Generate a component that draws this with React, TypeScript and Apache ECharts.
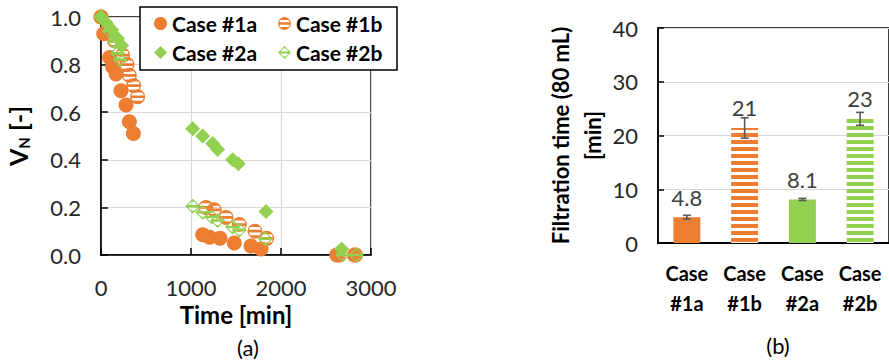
import React, { useEffect, useRef } from 'react';
import * as echarts from 'echarts';

const ORANGE = '#ED7D31';
const GREEN = '#92D050';
const FONT = 'Lato';

// ---- panel (a): normalized volume vs time ----
const seriesNames = ['Case #1a', 'Case #1b', 'Case #2a', 'Case #2b'];
const case1a: number[][] = [
  [0, 1.0], [30, 0.93], [95, 0.83], [130, 0.79], [167, 0.76], [222, 0.69], [278, 0.63], [315, 0.56], [360, 0.51],
  [1130, 0.085], [1205, 0.075], [1322, 0.07], [1481, 0.05], [1667, 0.038], [1778, 0.025],
  [2620, 0.0], [2815, 0.0],
];
const case1b: number[][] = [
  [0, 1.0], [60, 0.94], [150, 0.9], [240, 0.84], [289, 0.8], [315, 0.755], [363, 0.712], [407, 0.665],
  [1167, 0.2], [1259, 0.19], [1389, 0.158], [1537, 0.128], [1711, 0.1], [1841, 0.07],
  [2640, 0.0], [2830, 0.0],
];
const case2a: number[][] = [
  [0, 1.0], [60, 0.975], [120, 0.945], [185, 0.91], [230, 0.88],
  [1019, 0.53], [1130, 0.5], [1241, 0.468], [1296, 0.443], [1463, 0.4], [1526, 0.383], [1833, 0.183],
  [2674, 0.025],
];
const case2b: number[][] = [
  [0, 1.0], [93, 0.94], [148, 0.897], [185, 0.848], [211, 0.82],
  [1019, 0.205], [1130, 0.18], [1230, 0.16], [1296, 0.145], [1463, 0.118], [1537, 0.105], [1826, 0.068],
  [2685, 0.0], [2837, 0.0],
];

// ---- panel (b): filtration time ----
const barCategories = ['Case\n#1a', 'Case\n#1b', 'Case\n#2a', 'Case\n#2b'];
const barValues = [4.8, 21.4, 8.1, 23.1];
const barErrors = [0.35, 1.9, 0.2, 1.2];

const STRIPED_CIRCLE =
  'path://M0,10 A10,10 0 1,1 20,10 A10,10 0 1,1 0,10 Z ' +
  'M3.784,4.5 A8.3,8.3 0 0,0 1.898,8.2 L18.102,8.2 A8.3,8.3 0 0,0 16.216,4.5 Z ' +
  'M1.898,11.8 A8.3,8.3 0 0,0 3.784,15.5 L16.216,15.5 A8.3,8.3 0 0,0 18.102,11.8 Z';
const STRIPED_DIAMOND =
  'path://M10,0 L20,10 L10,20 L0,10 Z M8,4 L3.7,8.3 L16.3,8.3 L12,4 Z M3.7,11.7 L8,16 L12,16 L16.3,11.7 Z';

const symbols = ['circle', STRIPED_CIRCLE, 'diamond', STRIPED_DIAMOND];
const colors = [ORANGE, ORANGE, GREEN, GREEN];
const scatterData = [case1a, case1b, case2a, case2b];

function stripeDecal(color: string) {
  return {
    symbol: 'rect',
    symbolSize: 1,
    color,
    dashArrayX: [1, 0],
    dashArrayY: [3.5, 2.3],
    rotation: 0,
  };
}

export default function App() {
  const ref = useRef<HTMLDivElement>(null);
  useEffect(() => {
    if (!ref.current) return;
    const chart = echarts.init(ref.current, undefined, { renderer: 'svg' });
    const option: any = {
      animation: false,
      textStyle: { fontFamily: FONT },
      grid: [
        { left: 101, top: 17, width: 270, height: 238, show: true, borderColor: '#000', borderWidth: 1.5 },
        { left: 658, top: 28, width: 238, height: 215, show: true, borderColor: '#000', borderWidth: 1.5 },
      ],
      legend: {
        data: seriesNames.map((n, i) => ({ name: n, icon: symbols[i] })),
        left: 140,
        top: 7,
        width: 250,
        itemWidth: 13,
        itemHeight: 13,
        itemGap: 8,
        padding: [6, 3, 7, 14],
        backgroundColor: '#fff',
        borderColor: '#000',
        borderWidth: 1.5,
        selectedMode: false,
        textStyle: { fontFamily: FONT, fontWeight: 'bold', fontSize: 21, color: '#000', width: 98, lineHeight: 20 },
      },
      xAxis: [
        {
          type: 'value', gridIndex: 0, min: 0, max: 3000, interval: 1000,
          axisLine: { show: true, lineStyle: { color: '#000', width: 1.5 } },
          axisTick: { show: true, inside: true, length: 7, lineStyle: { color: '#000', width: 1.5 } },
          axisLabel: { fontSize: 22, margin: 21, color: '#262626', fontFamily: FONT, formatter: (v: number) => String(v) },
          splitLine: { show: true, lineStyle: { color: '#d9d9d9', width: 1.2 } },
          name: 'Time [min]', nameLocation: 'middle', nameGap: 44,
          nameTextStyle: { fontSize: 24, fontWeight: 'bold', color: '#000', fontFamily: FONT },
        },
        {
          type: 'category', gridIndex: 1, data: barCategories,
          axisLine: { show: true, lineStyle: { color: '#000', width: 2 } },
          axisTick: { show: false },
          axisLabel: { interval: 0, hideOverlap: false, fontSize: 20, fontWeight: 'bold', lineHeight: 30, margin: 15, color: '#000', fontFamily: FONT },
          splitLine: { show: false },
        },
      ],
      yAxis: [
        {
          type: 'value', gridIndex: 0, min: 0, max: 1, interval: 0.2,
          axisLine: { show: true, lineStyle: { color: '#000', width: 1.5 } },
          axisTick: { show: true, inside: true, length: 7, lineStyle: { color: '#000', width: 1.5 } },
          axisLabel: { fontSize: 22, margin: 20, color: '#262626', fontFamily: FONT, formatter: (v: number) => v.toFixed(1) },
          splitLine: { show: true, lineStyle: { color: '#d9d9d9', width: 1.2 } },
          name: '{m|V}{s|N}{m| [-]}', nameLocation: 'middle', nameGap: 70,
          nameTextStyle: {
            rich: {
              m: { fontSize: 25, fontWeight: 'bold', color: '#000', fontFamily: FONT, lineHeight: 26 },
              s: { fontSize: 15, fontWeight: 'bold', color: '#000', fontFamily: FONT, lineHeight: 26, verticalAlign: 'bottom', padding: [7, 0, 0, 0] },
            },
          },
        },
        {
          type: 'value', gridIndex: 1, min: 0, max: 40, interval: 10,
          axisLine: { show: true, lineStyle: { color: '#000', width: 1.5 } },
          axisTick: { show: true, inside: true, length: 6, lineStyle: { color: '#000', width: 1.5 } },
          axisLabel: { fontSize: 22, margin: 20, color: '#262626', fontFamily: FONT },
          splitLine: { show: true, lineStyle: { color: '#d9d9d9', width: 1.2 } },
          name: 'Filtration time (80 mL)\n[min]', nameLocation: 'middle', nameGap: 46,
          nameTextStyle: { fontSize: 22, fontWeight: 'bold', color: '#000', fontFamily: FONT, lineHeight: 32 },
        },
      ],
      series: [
        ...seriesNames.map((n, i) => ({
          type: 'scatter', name: n, xAxisIndex: 0, yAxisIndex: 0,
          data: scatterData[i], symbol: symbols[i], symbolSize: 15,
          itemStyle: { color: colors[i], opacity: 1 }, clip: false, z: 2 + i,
        })),
        {
          type: 'bar', xAxisIndex: 1, yAxisIndex: 1, barWidth: 27,
          data: barValues.map((v, i) => ({
            value: v,
            itemStyle: i % 2 === 1
              ? { color: '#fff', decal: stripeDecal(colors[i]) }
              : { color: colors[i] },
          })),
          label: {
            show: true, position: 'top', distance: 9, fontSize: 22, color: '#404040', fontFamily: FONT,
            formatter: (p: any) => (p.value >= 10 ? Math.round(p.value).toString() : p.value.toFixed(1)),
          },
        },
        {
          type: 'custom', xAxisIndex: 1, yAxisIndex: 1, z: 5,
          data: barValues.map((v, i) => [i, v - barErrors[i], v + barErrors[i]]),
          encode: { x: 0, y: [1, 2] },
          renderItem: (params: any, api: any) => {
            const x = api.value(0);
            const lo = api.coord([x, api.value(1)]);
            const hi = api.coord([x, api.value(2)]);
            const w = 4;
            const st = { stroke: '#595959', lineWidth: 1.6 };
            return {
              type: 'group',
              children: [
                { type: 'line', shape: { x1: hi[0], y1: hi[1], x2: lo[0], y2: lo[1] }, style: st },
                { type: 'line', shape: { x1: hi[0] - w, y1: hi[1], x2: hi[0] + w, y2: hi[1] }, style: st },
                { type: 'line', shape: { x1: lo[0] - w, y1: lo[1], x2: lo[0] + w, y2: lo[1] }, style: st },
              ],
            };
          },
        },
      ],
      graphic: [
        { type: 'text', x: 248, y: 347, style: { text: '(a)', fontSize: 22, fill: '#000', fontFamily: FONT, textAlign: 'center', textVerticalAlign: 'middle' } },
        { type: 'text', x: 778, y: 345, style: { text: '(b)', fontSize: 22, fill: '#000', fontFamily: FONT, textAlign: 'center', textVerticalAlign: 'middle' } },
      ],
    };
    chart.setOption(option);
    return () => chart.dispose();
  }, []);
  return <div ref={ref} style={{ position: 'fixed', left: 0, top: 0, width: 889, height: 363, background: '#fff' }} />;
}
